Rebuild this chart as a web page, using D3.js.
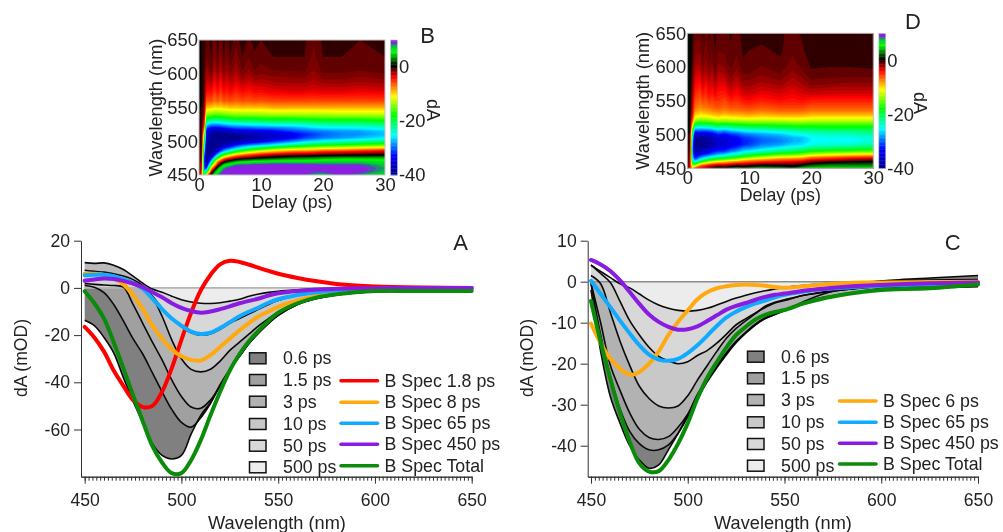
<!DOCTYPE html>
<html>
<head>
<meta charset="utf-8">
<script src="https://d3js.org/d3.v7.min.js"></script>
<style>
body{margin:0;background:#fff;}
svg{display:block;filter:blur(0.35px);}
text{font-family:"Liberation Sans",Arial,sans-serif;fill:#222;}
</style>
</head>
<body>
<div id="canvas"></div>
<script>
// wavelength grid of the spectra (nm)
var wl = [450,455,460,465,470,475,480,485,490,495,500,505,510,515,520,525,530,535,540,545,550,560,570,580,590,600,625,650];

var delayNames = ["0.6 ps","1.5 ps","3 ps","10 ps","50 ps","500 ps"];
var fills = ["#808080","#a0a0a0","#b2b2b2","#c8c8c8","#d8d8d8","#ececec"];

// panel A, measured spectra
var a06 = [-13.7,-16,-21,-27.5,-38,-48,-57,-66,-71,-72.5,-71,-62,-54,-48.5,-41,-34.5,-29,-23.5,-19,-15,-11.6,-7,-4.5,-3,-2.1,-1.6,-1.6,-1.7];
var a15 = [1,.3,-2,-7,-14,-21.5,-28,-36,-44,-51.5,-57,-59,-55,-49,-41.5,-34.5,-29,-23.5,-19,-15,-11.6,-7,-4.5,-3,-2.1,-1.6,-1.6,-1.7];
var a3 = [1.8,1.5,1.2,1,.3,-7,-15,-23,-30.5,-39,-46,-50.5,-51,-47.5,-41.5,-35,-29,-23.5,-18.8,-14.8,-11.4,-6.9,-4.4,-2.9,-2,-1.5,-1.5,-1.6];
var a10 = [7.5,7,6.7,6,5,3.5,1,-4,-12,-22,-30,-34.5,-35.6,-34.5,-31,-26.5,-23,-19.5,-16,-13,-10.3,-6.2,-4,-2.6,-1.8,-1.3,-1.2,-1.2];
var a50 = [5.5,5.6,5.5,5,4,2.5,.5,-3.5,-8.5,-13,-16.5,-19,-20,-19.5,-17.5,-15,-13,-11,-9,-7,-5.3,-3.2,-2,-1.2,-.8,-.5,-.3,-.3];
var a500 = [10.7,10.4,10.6,9.6,7.8,5,2,-.5,-1.8,-3.5,-5,-6,-6.5,-6.6,-6.3,-5.6,-4.8,-3.5,-2.6,-1.9,-1.4,-.8,-.4,-.2,-.1,0,.1,0];
// panel A, B spectra
var aB18 = [-16.5,-21,-27,-35,-41.5,-47.5,-50.5,-50,-44,-34,-22,-10.5,-1,5.5,10,11.5,11,9.8,8.5,7.2,6,4.2,2.8,1.7,1,.6,.2,0];
var aB8 = [6,6,5.5,4,1.5,-3,-9,-16,-21.5,-26,-29,-30.5,-30.8,-28.5,-25,-21.5,-18,-14.8,-12,-10,-8,-5.3,-3.4,-2,-1.1,-.6,-.3,-.3];
var aB65 = [5.4,5.6,5.6,5,3.7,2,-.3,-4.5,-9,-13,-16,-18.5,-19.5,-19,-17,-14.5,-12,-10,-8.3,-6.3,-4.8,-3,-1.8,-1.1,-.6,-.4,-.2,-.2];
var aB450 = [3,3.6,4,3.8,3,1.8,.3,-1.8,-4,-6.5,-8.5,-9.8,-10.5,-10,-9,-7.8,-6.5,-5.5,-4.5,-3.2,-2.3,-1.3,-.7,-.4,-.2,-.1,0,0];
var aBTotal = [-1.4,-6.5,-13,-23,-34,-45.5,-56.5,-67,-74,-78.5,-78.5,-73,-64.5,-54,-44,-35,-28,-22.5,-18,-14,-10.5,-6.5,-4,-2.7,-1.8,-1.3,-1.3,-1.3];

// panel C, measured spectra
var c06 = [-2,-17,-28,-34.5,-40,-43.5,-45.5,-44.7,-41,-37,-32.5,-27.5,-23.8,-20.5,-17.5,-14.7,-12.5,-10.5,-9,-8,-7,-4.8,-3,-1.7,-.5,.2,.9,1.5];
var c15 = [-.5,-13,-23,-31,-36.5,-39.5,-41,-41,-39.8,-37,-33,-28.5,-24.5,-21,-17.8,-14.9,-12.5,-10.5,-9,-8,-7.1,-5.2,-4,-3.1,-2.4,-1.8,-1.5,-1.2];
var c3 = [-.3,-10,-20.4,-26.5,-32,-36,-38,-38.5,-37.8,-35.5,-32.3,-28,-24,-20.5,-17.3,-14.5,-12.3,-10.3,-8.8,-7.8,-6.9,-5,-3.8,-3,-2.3,-1.7,-1.4,-1.1];
var c10 = [1.5,-.5,-7.5,-14.5,-20.4,-25.5,-28.5,-30.3,-30.8,-30.3,-27.8,-24,-20.5,-17,-13.8,-11.4,-9.5,-7.8,-6,-5,-4.4,-3.3,-2.6,-2,-1.5,-1.2,-.9,-.7];
var c50 = [4.1,2,-.2,-4.8,-9.5,-13,-16,-18.2,-19.3,-20,-19.5,-18,-16.8,-15,-12.8,-10.5,-9,-7.6,-6.3,-5.2,-4.6,-3.3,-2.5,-2,-1.5,-1.2,-.9,-.7];
var c500 = [4,2.5,1,-.5,-1.5,-3,-4.5,-5.7,-6.5,-7,-7.2,-7,-6.5,-5.7,-4.8,-4,-3.3,-2.7,-2.2,-1.8,-1.4,-.9,-.5,-.3,-.1,.1,.4,.5];
// panel C, B spectra
var cB6 = [-10.2,-15,-18.8,-21.2,-22.7,-22,-20,-17,-13,-9.8,-7,-4.3,-2.6,-1.6,-1.1,-.8,-.7,-.8,-1,-1.3,-1.5,-1.1,-.7,-.4,-.2,-.2,-.1,0];
var cB65 = [.2,-3,-6.2,-9.5,-12.6,-15.5,-17.8,-19,-19.3,-18.8,-17.4,-15.5,-13.2,-10.8,-8.7,-7.3,-6.2,-5.3,-4.6,-3.8,-3.2,-2.4,-1.8,-1.5,-1.2,-1,-.6,-.4];
var cB450 = [5.3,4.2,2.6,.3,-2.5,-5.4,-8,-9.8,-11,-11.7,-11.6,-10.9,-9.6,-8.2,-6.8,-5.9,-5.2,-4.4,-3.7,-3.2,-2.9,-2.2,-1.7,-1.3,-1,-.8,-.4,-.2];
var cBTotal = [-4.7,-14.7,-23.7,-32,-39,-44.3,-46.3,-46.2,-43.5,-39.5,-34.5,-28.5,-23.5,-19.6,-16,-13,-11,-9.2,-8.1,-7.4,-6.9,-5.3,-4.1,-3.2,-2.5,-2,-1.6,-.7];

// contour map axes
var mapDelays = [0,.4,.8,1.2, 2,2.5,3,3.5,4, 4.5,5,6,7,8, 9,10,12,15,17, 18.5,20,23,26,30];
var mapWl = [450,455,460,465,470,475,480,485,490,495,500,505,510,515,520,525,530,535,540,550,560,575,590,605,625,650];

// map B, one row per wavelength
var mapB = [
[0,-6,-20,-10, 2,6,8,9.5,9.5, 9,9.5,10,9.5,10, 9,10,9.5,10,9, 8,7.5,9,8,7],
[0,-5,-26,-22, -3,3,6,8,9.5, 10,9.5,10,10,10, 9.5,10,10,9.5,10, 9,9,9,9.5,7.5],
[0,-4,-30,-32, -9,-3,3,6,8, 9,9.5,10,10,10, 10,10,10,10,9.5, 9.5,9,9.5,9.5,8],
[0,-3,-30,-38, -17,-10,-3,2,5, 6,7,8.5,9,9, 9.5,9.5,10,10,9.5, 9.5,9,9,9,7.5],
[0,-2,-30,-40, -26,-16,-8,-4,-1, 1,2,4,5,5.5, 6,6,6.5,6.5,6.5, 6.5,7,7,7,6.5],
[0,-1.5,-30,-40, -33,-25,-17,-12,-8, -6,-4,-2,-1,-.5, .5,1,2,3,3.3, 3.5,4,4.5,4.5,4.5],
[0,-1,-28,-40, -38,-33,-27,-22,-18, -15,-13,-9.5,-7.5,-6, -5,-4,-2.5,-1.5,-1.2, -1,-.5,-.3,0,.3],
[0,-1,-25,-40, -40,-37,-34,-30,-27, -25,-23,-19,-16,-14, -12.5,-11,-9,-7,-6.5, -6,-5,-4.5,-4,-3],
[0,-.7,-22,-40, -40,-40,-38,-35,-33, -31,-30,-27,-25,-23, -21,-20,-17,-14.5,-13.5, -13,-12,-11.5,-10.5,-9.5],
[0,-.5,-20,-40, -40,-40,-40,-39,-38, -37,-36,-33,-31,-30, -29,-28,-26,-23,-21, -20,-19,-18,-17,-16],
[0,-.5,-17,-38, -40,-40,-40,-40,-40, -39.5,-39,-38,-37,-36, -35,-34,-32,-29,-27, -26,-25,-24,-23,-21.5],
[0,-.5,-15,-36, -40,-40,-40,-40,-40, -40,-40,-40,-39.5,-39, -38.5,-38,-36,-33,-31, -30,-29,-28,-27,-25.5],
[0,-.4,-12,-35, -39,-40,-40,-40,-40, -40,-40,-39,-38.5,-38, -37.5,-37,-36,-34,-32, -31,-30,-29,-28.5,-27],
[0,-.3,-9,-34, -37,-38,-38,-37.5,-37, -36.5,-36,-35,-34.5,-34, -34,-34,-33,-31,-30, -29.5,-29,-28,-28,-26.5],
[0,-.2,-6,-30, -33,-33,-33,-32.5,-32, -31.5,-31,-30,-30,-30, -29.5,-29,-29,-28,-27, -26,-25.5,-25.5,-25,-24],
[0,-.2,-4,-26, -28,-28,-28,-27.5,-27, -26.5,-26,-26,-25.5,-25, -25,-25,-24,-24,-23.5, -23,-22.5,-22,-22,-21],
[0,-.2,-3,-21, -23,-23,-23,-23,-22.5, -22,-21.5,-21,-21,-21, -20.7,-20.5,-20,-20,-19.7, -19.5,-19,-19,-19,-18],
[0,-.1,-2,-17, -18.5,-19,-19,-18.5,-18, -17.8,-17.5,-17,-17,-17, -16.8,-16.5,-16.5,-16.5,-16, -16,-15.5,-15.5,-15.5,-15],
[0,-.1,-1.5,-14, -14.5,-15,-15,-15,-14.5, -14.2,-14,-13.5,-13.5,-13.5, -13.5,-13.5,-13,-13,-13, -13,-13,-12.5,-12.5,-12.5],
[0,0,-1,-9, -9.3,-10,-9.5,-10,-9.3, -9.5,-9,-9.2,-8.8,-9, -8.8,-9,-8.5,-8.5,-8.5, -8.5,-8.5,-8.5,-8.5,-8.5],
[0,0,-.5,-6, -5.8,-7,-6,-7,-5.8, -6.2,-5.6,-6.3,-5.7,-6, -5.6,-5.8,-5.5,-5.5,-5.5, -5.6,-5.5,-5.5,-5.5,-5.5],
[0,0,-.3,-3.8, -3.6,-5,-3.8,-5,-3.6, -4.4,-3.5,-4.5,-3.6,-4.1, -3.6,-3.6,-3.2,-3,-3, -3.2,-3,-3,-3.2,-3],
[0,0,-.2,-2.6, -2,-3.6,-2.2,-3.8,-2.2, -3.2,-2.2,-3,-2,-2.6, -2,-2.2,-1.8,-1.7,-1.7, -2.1,-1.6,-1.6,-1.8,-1.6],
[0,0,-.2,-1.8, -1,-2.5,-1.2,-2.6,-1.2, -2,-1.2,-2,-1,-1.6, -1,-1.2,-1,-1,-.9, -1.5,-.8,-.8,-1,-.7],
[0,0,-.1,-1, -.5,-1.6,-.5,-1.7,-.5, -1.3,-.5,-1.3,-.5,-1, -.6,-.8,-.5,-.5,-.5, -1.2,-.5,-.5,-.6,-.5],
[0,0,-.1,-.7, -.3,-1,-.3,-1,-.2, -.8,-.2,-.8,-.2,-.6, -.3,-.5,-.4,-.4,-.4, -.9,-.4,-.4,-.5,-.4]
];

// map D, one row per wavelength
var mapD = [
[0,-3,-9,-5, -2.5,-2,-1,0,.5, 1.5,2,1,2,3, 2,3,4,3,2, 4,5,5,5,5],
[0,-3,-14,-16, -9,-7,-6,-5,-4, -3.5,-3,-3,-2,-1, -1.5,-1,0,0,-.5, .5,2,3,3,3],
[0,-2.5,-20,-26, -20,-18,-16,-14,-13, -12,-11,-10,-9,-8, -7,-6,-5,-4,-3.5, -3,-1.5,-.5,0,.5],
[0,-2,-25,-32, -28,-26,-25,-23,-22, -21,-20,-19,-17,-16, -14,-13,-11,-9,-8.5, -8,-6,-5,-4,-3],
[0,-1.5,-27,-36, -33,-32,-31,-30,-29, -28,-27,-26,-24,-23, -21,-20,-18,-15.5,-15, -14,-12,-11,-10,-9.5],
[0,-1,-28,-38, -37,-36,-35,-34,-33, -32,-31.5,-31,-29,-28, -26,-25,-23,-21,-20, -19,-17.5,-16.5,-16,-15],
[0,-1,-28,-40, -39,-39,-38,-37,-36, -35,-34,-34,-32,-31, -29,-28.5,-27,-25,-24, -23,-21.5,-21,-20.5,-19.5],
[0,-.8,-27,-40, -40,-40,-39,-38.5,-38, -37,-36,-35.5,-34,-33, -32,-31,-29,-28,-26.5, -26,-24.5,-24,-23.5,-22.5],
[0,-.7,-26,-40, -40,-40,-39.5,-39,-38, -37,-36,-35.5,-34,-33.5, -32,-31.5,-30,-29,-27.5, -27,-25.5,-25,-25.5,-24],
[0,-.6,-24,-39, -39,-39,-38.5,-38,-37, -36,-35,-35,-33.5,-33, -31.5,-31,-29.5,-28.5,-27.5, -27,-25.5,-25,-25,-24],
[0,-.5,-21,-36, -36,-36,-35.5,-35,-34.5, -33,-32,-33,-31.5,-31, -29.5,-29,-28,-27,-25.5, -25,-24,-23.5,-23.5,-22.5],
[.5,.5,-17,-31, -31,-31,-31,-30.5,-30, -29,-28,-29,-27.5,-27, -26,-25.5,-25,-24,-23, -22.5,-22,-21.5,-21.5,-21],
[.5,.5,-13,-25, -25.5,-25.5,-25,-25,-24.5, -23.5,-23,-24,-22.5,-22, -21.5,-21,-21,-20,-19.5, -19,-19,-18.5,-18.5,-18.5],
[.5,.5,-9,-19, -20,-20,-20,-19.5,-19, -18.5,-18,-19,-18,-18, -17.5,-17,-17,-16.5,-16, -16,-16,-16,-16,-16],
[.5,.5,-6,-14, -15,-15,-15,-14.5,-14.5, -14,-13.5,-14,-13.5,-13.5, -13.3,-13,-13,-13,-12.5, -12.5,-13,-13,-13,-13],
[.5,.5,-4.5,-11, -12,-12,-12,-11.5,-11, -10.8,-10.5,-11,-10.5,-10.5, -10.2,-10,-10.5,-10,-10, -10,-10.5,-10.5,-10.5,-10.5],
[.5,.5,-3.5,-9, -10,-9.8,-9.5,-9.3,-9, -8.8,-8.5,-9,-8.5,-8.5, -8.2,-8,-8.5,-8,-8, -8,-8.5,-8.5,-8.5,-8.5],
[.5,.5,-3,-7.5, -8.5,-8.2,-8,-7.8,-7.5, -7.3,-7,-7.5,-7,-7, -6.7,-6.5,-7,-6.5,-6.5, -6.5,-7,-7,-7,-7],
[.5,.5,-2.5,-6.5, -7.5,-7.2,-7,-6.8,-6.5, -6.2,-6,-6.5,-6,-6, -5.7,-5.5,-6,-5.5,-5.5, -5.5,-6,-6,-6,-6],
[.5,.5,-2,-5.5, -6.5,-5.5,-6,-5,-5.5, -4.8,-5,-5.5,-4.5,-5, -4.2,-4,-4.5,-4,-4.3, -4,-4.5,-4.5,-4.5,-4.5],
[.5,.5,-1.5,-4.5, -5.5,-4.3,-5,-3.8,-4.5, -3.5,-4.3,-4.5,-3.3,-4, -3,-2.8,-3.5,-3,-3.5, -3,-2.8,-3,-3,-3],
[.5,.5,-1,-3.5, -4.2,-2.8,-3.8,-2.6,-3.3, -2.2,-3.2,-3.2,-2,-2.8, -1.8,-1.8,-2.2,-1.8,-2.5, -2,-1.3,-1.5,-1.6,-1.6],
[.5,.5,-.6,-2.5, -3,-1.8,-2.6,-1.6,-2.3, -1.2,-2.2,-2,-1.2,-1.8, -1,-1,-1.4,-1,-1.7, -1.2,-.6,-.7,-.7,-.7],
[.5,.5,-.4,-1.8, -2,-1,-1.8,-1,-1.5, -.7,-1.5,-1.2,-.8,-1.2, -.6,-.7,-.9,-.6,-1.2, -.8,-.4,-.4,-.4,-.3],
[.5,.5,-.2,-1.2, -1.4,-.7,-1.3,-.6,-1, -.5,-1,-.9,-.6,-.9, -.4,-.5,-.6,-.4,-.9, -.6,-.2,-.3,-.3,-.2],
[.5,.5,-.1,-.8, -.8,-.4,-.9,-.4,-.7, -.3,-.7,-.7,-.4,-.7, -.3,-.4,-.3,-.4,-.7, -.4,-.1,-.2,-.2,-.1]
];

// colour table of the maps
var colorStops = [-40,-33,-25.5,-18,-11,-4,-1,0,1,5.5,7.5,8.5,9,10];
var colorValues = ["#000090","#0000ff","#00ffff","#00ff00","#ffff00","#ff0000","#600000","#000000","#002000","#00ff00","#00c040","#5050b0","#8a20e0","#8a20e0"];
var mapColor = d3.scaleLinear().domain(colorStops).range(colorValues);

var width = 1003;
var height = 532;

var svg = d3.select("#canvas").append("svg")
	.attr("width",width)
	.attr("height",height)
	.style("background","#fff");

function plainTick(d){return String(d);}

function drawMap(values,x0,y0,letter,letterX,letterY,labelX,dAX,dAY){
	var plotW = 186, plotH = 135;
	var g = svg.append("g");
	var x = d3.scaleLinear().domain([0,30]).range([x0,x0+plotW]);
	var y = d3.scaleLinear().domain([450,650]).range([y0+plotH,y0]);

	// contour grid index -> data -> pixel, grid is not evenly spaced
	var ix = d3.scaleLinear().domain(mapDelays.map(function(d,i){return i+0.5;})).range(mapDelays.map(x)).clamp(true);
	var iy = d3.scaleLinear().domain(mapWl.map(function(d,i){return i+0.5;})).range(mapWl.map(y)).clamp(true);
	var path = d3.geoPath(d3.geoTransform({point:function(a,b){this.stream.point(ix(a),iy(b));}}));

	var thresholds = d3.range(-40,10.01,0.5);
	var contours = d3.contours()
		.size([mapDelays.length,mapWl.length])
		.thresholds(thresholds)(values.flat());

	g.append("rect").attr("x",x0).attr("y",y0).attr("width",plotW).attr("height",plotH).attr("fill",mapColor(-40));
	g.selectAll("path.band").data(contours).enter().append("path")
		.attr("class","band")
		.attr("d",path)
		.attr("fill",function(d){return mapColor(d.value);});
	g.append("rect").attr("x",x0).attr("y",y0).attr("width",plotW).attr("height",plotH)
		.attr("fill","none").attr("stroke","#c4c4c4").attr("stroke-width",1);

	var yAxis = d3.axisLeft(y).tickValues([450,500,550,600,650]).tickSize(0).tickPadding(1);
	var xAxis = d3.axisBottom(x).tickValues([0,10,20,30]).tickSize(0).tickPadding(3);
	var ya = g.append("g").attr("transform","translate("+x0+",0)").call(yAxis);
	var xa = g.append("g").attr("transform","translate(0,"+(y0+plotH)+")").call(xAxis);
	ya.select(".domain").remove();
	xa.select(".domain").remove();
	ya.selectAll("text").style("font-size","18.4px");
	xa.selectAll("text").style("font-size","18.4px");

	g.append("text").attr("transform","translate("+labelX+","+(y0+plotH/2)+") rotate(-90)")
		.attr("text-anchor","middle").attr("dy","0.35em").style("font-size","18.2px").text("Wavelength (nm)");
	g.append("text").attr("x",x0+plotW/2).attr("y",y0+plotH+32.5)
		.attr("text-anchor","middle").style("font-size","17.8px").text("Delay (ps)");

	// colour bar
	var barX = x0+plotW+5.5;
	var barY = d3.scaleLinear().domain([10,-40]).range([y0,y0+plotH]);
	g.selectAll("rect.bar").data(d3.range(-40,10,0.5)).enter().append("rect")
		.attr("class","bar")
		.attr("x",barX).attr("width",7)
		.attr("y",function(d){return barY(d+0.5);})
		.attr("height",function(d){return barY(d)-barY(d+0.5)+0.4;})
		.attr("fill",function(d){return mapColor(d);});
	g.append("rect").attr("x",barX).attr("y",y0).attr("width",7).attr("height",plotH)
		.attr("fill","none").attr("stroke","#d0d0d0").attr("stroke-width",0.6);
	var barAxis = d3.axisRight(barY).tickValues([0,-20,-40]).tickSize(0).tickFormat(plainTick);
	var ba = g.append("g").attr("transform","translate("+barX+",0)").call(barAxis);
	ba.select(".domain").remove();
	ba.selectAll("text").style("font-size","18.4px").attr("x",8.5);

	g.append("text").attr("transform","translate("+dAX+","+dAY+") rotate(90)")
		.attr("text-anchor","middle").attr("dy","0.35em").style("font-size","18px").text("dA");
	g.append("text").attr("x",letterX).attr("y",letterY).attr("text-anchor","middle")
		.style("font-size","22px").text(letter);
}

function drawSpectra(p){
	var g = svg.append("g");
	var x = d3.scaleLinear().domain(p.xDomain).range(p.xRange);
	var y = d3.scaleLinear().domain(p.yDomain).range([240.7,476.7]);
	var line = d3.line().x(function(d,i){return x(wl[i]);}).y(function(d){return y(d);}).curve(d3.curveCatmullRom);
	var area = d3.area().x(function(d,i){return x(wl[i]);}).y0(y(0)).y1(function(d){return y(d);}).curve(d3.curveCatmullRom);

	// fills go to zero, split at zero since the stacking differs on each side
	var clipPos = "pos"+p.letter, clipNeg = "neg"+p.letter;
	g.append("clipPath").attr("id",clipPos).append("rect").attr("x",0).attr("y",0).attr("width",width).attr("height",y(0));
	g.append("clipPath").attr("id",clipNeg).append("rect").attr("x",0).attr("y",y(0)).attr("width",width).attr("height",height);

	var posOrder = d3.range(p.measured.length).reverse();
	posOrder.forEach(function(i){
		g.append("path").attr("d",area(p.measured[i])).attr("fill",p.posFills[i]).attr("clip-path","url(#"+clipPos+")");
	});
	p.measured.forEach(function(s,i){
		g.append("path").attr("d",area(s)).attr("fill",fills[i]).attr("clip-path","url(#"+clipNeg+")");
	});
	g.append("line").attr("x1",x(450)).attr("x2",x(650)).attr("y1",y(0)).attr("y2",y(0))
		.attr("stroke",p.zeroColor).attr("stroke-width",1.6);
	p.measured.forEach(function(s){
		g.append("path").attr("d",line(s)).attr("fill","none").attr("stroke","#0a0a0a").attr("stroke-width",1.6);
	});
	p.comps.forEach(function(c){
		g.append("path").attr("d",line(c.values)).attr("fill","none").attr("stroke",c.color).attr("stroke-width",4).attr("stroke-linecap","round");
	});

	// axes
	var bottom = 476.7;
	var minor = g.append("g").attr("transform","translate(0,"+bottom+")")
		.call(d3.axisBottom(x).tickValues(d3.range(450,651,2)).tickSize(4).tickFormat("").tickSizeOuter(0));
	var major = g.append("g").attr("transform","translate(0,"+bottom+")")
		.call(d3.axisBottom(x).tickValues([450,500,550,600,650]).tickSize(7).tickPadding(10).tickFormat(plainTick).tickSizeOuter(0));
	var left = g.append("g").attr("transform","translate("+p.xRange[0]+",0)")
		.call(d3.axisLeft(y).tickValues(p.yTicks).tickSize(7).tickPadding(4).tickFormat(plainTick).tickSizeOuter(0));
	[minor,major,left].forEach(function(a){
		a.selectAll("path,line").attr("stroke","#333").attr("stroke-width",1);
		a.selectAll("text").style("font-size","17.6px");
	});

	g.append("text").attr("x",p.xTitle).attr("y",528.5).attr("text-anchor","middle")
		.style("font-size","18.2px").text("Wavelength (nm)");
	g.append("text").attr("transform","translate("+p.yTitle+",358) rotate(-90)").attr("text-anchor","middle")
		.style("font-size","17.6px").text("dA (mOD)");
	g.append("text").attr("x",p.letterX).attr("y",249.5).attr("text-anchor","middle")
		.style("font-size","22px").text(p.letter);

	// legends
	delayNames.forEach(function(n,i){
		var yy = p.swatchY[i];
		g.append("rect").attr("x",p.swatchX).attr("y",yy-5.5).attr("width",16.5).attr("height",11)
			.attr("fill",fills[i]).attr("stroke","#111").attr("stroke-width",1.5);
		g.append("text").attr("x",p.swatchX+33.5).attr("y",yy+6).style("font-size","17.8px").text(n);
	});
	p.comps.forEach(function(c,i){
		var yy = p.lineY[i];
		g.append("line").attr("x1",p.lineX).attr("x2",p.lineX+36.5).attr("y1",yy).attr("y2",yy)
			.attr("stroke",c.color).attr("stroke-width",3.5).attr("stroke-linecap","round");
		g.append("text").attr("x",p.lineX+43.5).attr("y",yy+6).style("font-size","17.8px").text(c.name);
	});
}

drawMap(mapB,199,40,"B",427.7,42.7,156,433,110);
drawMap(mapD,687.3,33.3,"D",913,29,643,920,103);

drawSpectra({
	letter:"A",letterX:460.7,
	xDomain:[448.1,650],xRange:[81,471.7],
	yDomain:[20,-80],yTicks:[20,0,-20,-40,-60],
	measured:[a06,a15,a3,a10,a50,a500],
	posFills:["#808080","#d4d4d4","#d4d4d4","#d4d4d4","#d4d4d4","#bababa"],
	zeroColor:"#b4b4b4",
	comps:[
		{name:"B Spec 1.8 ps",color:"#ff0000",values:aB18},
		{name:"B Spec 8 ps",color:"#ffa90f",values:aB8},
		{name:"B Spec 65 ps",color:"#10aaff",values:aB65},
		{name:"B Spec 450 ps",color:"#8a1be0",values:aB450},
		{name:"B Spec Total",color:"#0a8c0a",values:aBTotal}
	],
	xTitle:277,yTitle:27,
	swatchX:249.5,swatchY:[358.3,380,401.7,424,445.7,467.3],
	lineX:341,lineY:[380.7,402.3,423.3,444.3,465.7]
});

drawSpectra({
	letter:"C",letterX:952.7,
	xDomain:[448.3,650],xRange:[587.7,978],
	yDomain:[10,-47.56],yTicks:[10,0,-10,-20,-30,-40],
	measured:[c06,c15,c3,c10,c50,c500],
	posFills:["#808080","#a0a0a0","#b2b2b2","#c8c8c8","#d8d8d8","#ececec"],
	zeroColor:"#8c8c8c",
	comps:[
		{name:"B Spec 6 ps",color:"#ffa90f",values:cB6},
		{name:"B Spec 65 ps",color:"#10aaff",values:cB65},
		{name:"B Spec 450 ps",color:"#8a1be0",values:cB450},
		{name:"B Spec Total",color:"#0a8c0a",values:cBTotal}
	],
	xTitle:783,yTitle:533,
	swatchX:747.5,swatchY:[356.7,378.3,400,422.3,444,465.7],
	lineX:839.5,lineY:[401,422.3,443.3,464]
});
</script>
</body>
</html>
